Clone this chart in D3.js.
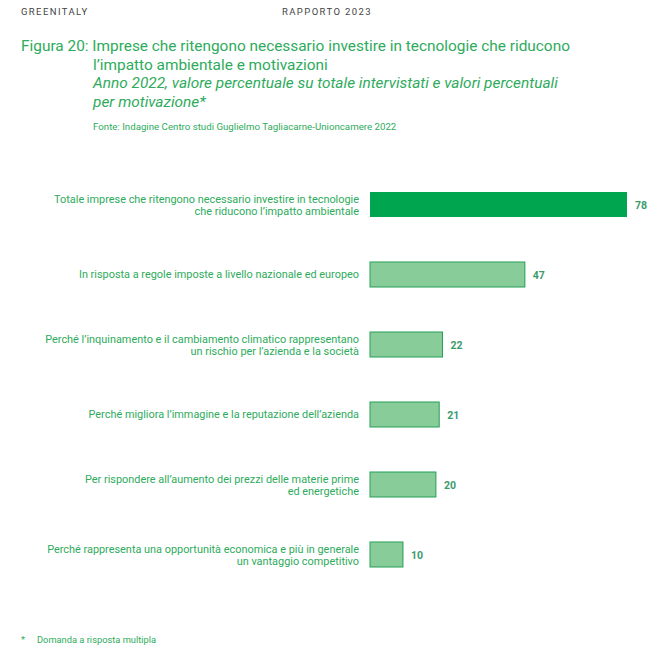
<!DOCTYPE html>
<html>
<head>
<meta charset="utf-8">
<script src="https://cdn.jsdelivr.net/npm/d3@7"></script>
<style>
  body { margin: 0; background: #fff; }
  svg { font-family: Roboto, "Noto Sans", sans-serif; }
  .head { font-size: 9.5px; fill: #444; letter-spacing: 1.4px; }
  .title { font-size: 15.4px; fill: #2eab5c; }
  .source { font-size: 9.7px; fill: #2eab5c; }
  .cat { font-size: 10.9px; fill: #2eab5c; }
  .value { font-size: 10.5px; font-weight: bold; fill: #3a9b6c; }
  .note { font-size: 9.3px; fill: #2eab5c; }
</style>
</head>
<body>
<svg width="661" height="663"></svg>
<script>
const categories = [
    ['Totale imprese che ritengono necessario investire in tecnologie', 'che riducono l\u2019impatto ambientale'],
    ['In risposta a regole imposte a livello nazionale ed europeo'],
    ['Perch\u00e9 l\u2019inquinamento e il cambiamento climatico rappresentano', 'un rischio per l\u2019azienda e la societ\u00e0'],
    ['Perch\u00e9 migliora l\u2019immagine e la reputazione dell\u2019azienda'],
    ['Per rispondere all\u2019aumento dei prezzi delle materie prime', 'ed energetiche'],
    ['Perch\u00e9 rappresenta una opportunit\u00e0 economica e pi\u00f9 in generale', 'un vantaggio competitivo']
];
const values = [78, 47, 22, 21, 20, 10];

const svg = d3.select('svg');

// header
svg.append('text').attr('class', 'head').attr('x', 21).attr('y', 15).text('GREENITALY');
svg.append('text').attr('class', 'head').attr('x', 282).attr('y', 15).text('RAPPORTO 2023');

// title block
const titleLines = [
    { x: 21, text: 'Figura 20: Imprese che ritengono necessario investire in tecnologie che riducono', italic: false },
    { x: 93, text: 'l\u2019impatto ambientale e motivazioni', italic: false },
    { x: 93, text: 'Anno 2022, valore percentuale su totale intervistati e valori percentuali', italic: true },
    { x: 93, text: 'per motivazione*', italic: true }
];
titleLines.forEach((l, i) => {
    svg.append('text')
        .attr('class', 'title')
        .attr('x', l.x)
        .attr('y', 51 + i * 18.7)
        .style('font-style', l.italic ? 'italic' : 'normal')
        .text(l.text);
});

svg.append('text').attr('class', 'source').attr('x', 93).attr('y', 130)
    .text('Fonte: Indagine Centro studi Guglielmo Tagliacarne-Unioncamere 2022');

const x = d3.scaleLinear()
    .domain([0, 78])
    .range([370, 627]);

const y = d3.scaleBand()
    .domain(d3.range(values.length))
    .range([169.5, 169.5 + 6 * 70])
    .paddingInner(45 / 70)
    .paddingOuter(45 / 140);

const rows = svg.selectAll('.row')
    .data(values)
    .enter()
    .append('g')
    .attr('class', 'row');

rows.append('rect')
    .attr('x', x(0))
    .attr('y', (d, i) => y(i))
    .attr('width', (d) => x(d) - x(0))
    .attr('height', y.bandwidth())
    .attr('fill', (d, i) => i === 0 ? '#00a64f' : '#88cc9a')
    .attr('stroke', (d, i) => i === 0 ? 'none' : '#22a054')
    .attr('stroke-width', 1);

rows.append('text')
    .attr('class', 'value')
    .attr('x', (d) => x(d) + 8)
    .attr('y', (d, i) => y(i) + y.bandwidth() / 2 + 4)
    .text((d) => d);

rows.append('text')
    .attr('class', 'cat')
    .attr('text-anchor', 'end')
    .attr('x', 359)
    .attr('y', (d, i) => y(i) + y.bandwidth() / 2 + (categories[i].length === 1 ? 3.5 : -1.8))
    .selectAll('tspan')
    .data((d, i) => categories[i])
    .enter()
    .append('tspan')
    .attr('x', 359)
    .attr('dy', (t, j) => j === 0 ? 0 : 12.5)
    .text((t) => t);

svg.append('text').attr('class', 'note').attr('x', 21).attr('y', 643).text('*');
svg.append('text').attr('class', 'note').attr('x', 37).attr('y', 643).text('Domanda a risposta multipla');
</script>
</body>
</html>
